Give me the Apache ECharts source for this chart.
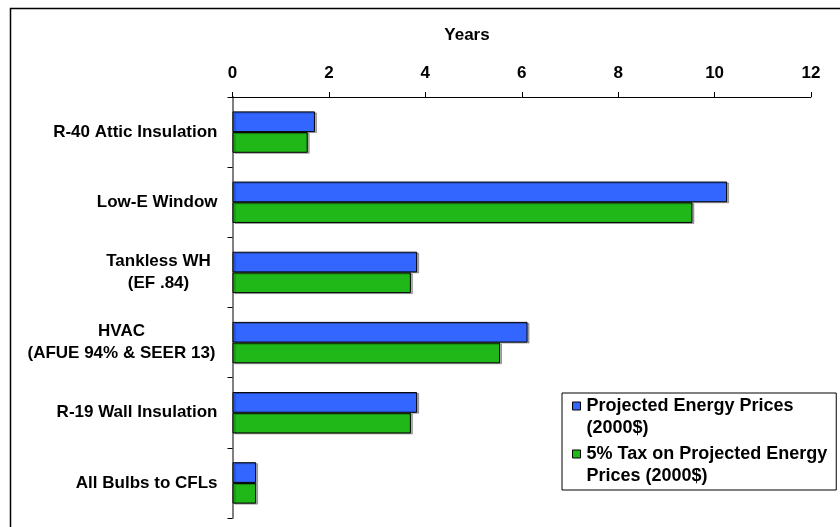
<!DOCTYPE html>
<html>
<head>
<meta charset="utf-8">
<script src="https://cdn.jsdelivr.net/npm/echarts@6/dist/echarts.min.js"></script>
<style>
  html, body { margin: 0; padding: 0; background: #fff; }
  #chart { width: 840px; height: 527px; }
</style>
</head>
<body>
<div id="chart"></div>
<script>
// Payback period (years) for each efficiency measure
const categories = [
  'R-40 Attic Insulation',
  'Low-E Window',
  'Tankless WH\n(EF .84)',
  'HVAC\n(AFUE 94% & SEER 13)',
  'R-19 Wall Insulation',
  'All Bulbs to CFLs'
];
const projectedPrices = [1.71, 10.26, 3.83, 6.12, 3.83, 0.49];
const taxedPrices = [1.56, 9.54, 3.70, 5.55, 3.70, 0.49];
const seriesNames = ['Projected Energy Prices\n(2000$)', '5% Tax on Projected Energy\nPrices (2000$)'];
const xTicks = { min: 0, max: 12, interval: 2 };

const FONT = 'Liberation Sans, Arial, sans-serif';
const FS = 17;

const chart = echarts.init(document.getElementById('chart'), null, { renderer: 'canvas' });

// Two-line category names are centred on each other
function catLabel(v) {
  if (v.indexOf('Tankless') === 0) {
    return v.split('\n').map(s => '{tk|' + s + '}').join('\n');
  }
  if (v.indexOf('HVAC') === 0) {
    return v.split('\n').map(s => '{hv|' + s + '}').join('\n');
  }
  return v;
}

const barStyle = (color) => ({
  color: color,
  borderColor: '#000',
  borderWidth: 1,
  shadowColor: 'rgba(0,0,0,0.3)',
  shadowOffsetX: 2,
  shadowOffsetY: 1
});

// Legend key: an 8px square sitting level with the first text line
const keyIcon = 'path://M0,0L8,0L8,8L0,8Z M0,30';

const labelFont = { fontFamily: FONT, fontSize: FS, fontWeight: 'bold', color: '#000' };

chart.setOption({
  animation: false,
  backgroundColor: '#fff',
  title: {
    text: 'Years',
    left: 462,
    top: 22,
    textAlign: 'center',
    textStyle: Object.assign({}, labelFont)
  },
  graphic: [{
    type: 'rect',
    shape: { x: 10.5, y: 8.5, width: 900, height: 600 },
    style: { fill: 'none', stroke: '#000', lineWidth: 1.5 },
    silent: true,
    z: 100
  }],
  legend: {
    orient: 'vertical',
    left: 562,
    top: 393,
    padding: [2, 9, 3, 10],
    itemWidth: 8,
    itemHeight: 30,
    itemGap: 4,
    backgroundColor: '#fff',
    borderColor: '#000',
    borderWidth: 1,
    icon: keyIcon,
    itemStyle: { borderColor: '#000', borderWidth: 1 },
    textStyle: Object.assign({}, labelFont, { fontSize: 18, lineHeight: 22, padding: [0, 0, 0, 1] }),
    data: seriesNames
  },
  grid: { left: 232.5, right: 29, top: 97, bottom: 9, containLabel: false },
  xAxis: {
    type: 'value',
    position: 'top',
    min: xTicks.min,
    max: xTicks.max,
    interval: xTicks.interval,
    axisLine: { show: true, lineStyle: { color: '#000', width: 1 } },
    axisTick: { show: true, inside: false, length: 5, lineStyle: { color: '#000' } },
    splitLine: { show: false },
    axisLabel: Object.assign({ margin: 15 }, labelFont)
  },
  yAxis: {
    type: 'category',
    inverse: true,
    data: categories,
    axisLine: { show: true, lineStyle: { color: '#808080', width: 2 } },
    axisTick: { show: true, length: 5, lineStyle: { color: '#000' } },
    axisLabel: Object.assign({
      margin: 15, lineHeight: 22,
      formatter: catLabel,
      rich: {
        tk: Object.assign({ width: 118, align: 'center', lineHeight: 22 }, labelFont),
        hv: Object.assign({ width: 192, align: 'center', lineHeight: 22 }, labelFont)
      }
    }, labelFont)
  },
  series: [
    {
      name: seriesNames[0],
      type: 'bar',
      data: projectedPrices,
      barGap: '0%',
      barCategoryGap: '41%',
      itemStyle: barStyle('#3366FF')
    },
    {
      name: seriesNames[1],
      type: 'bar',
      data: taxedPrices,
      barGap: '0%',
      barCategoryGap: '41%',
      itemStyle: barStyle('#20B818')
    }
  ]
});
</script>
</body>
</html>
